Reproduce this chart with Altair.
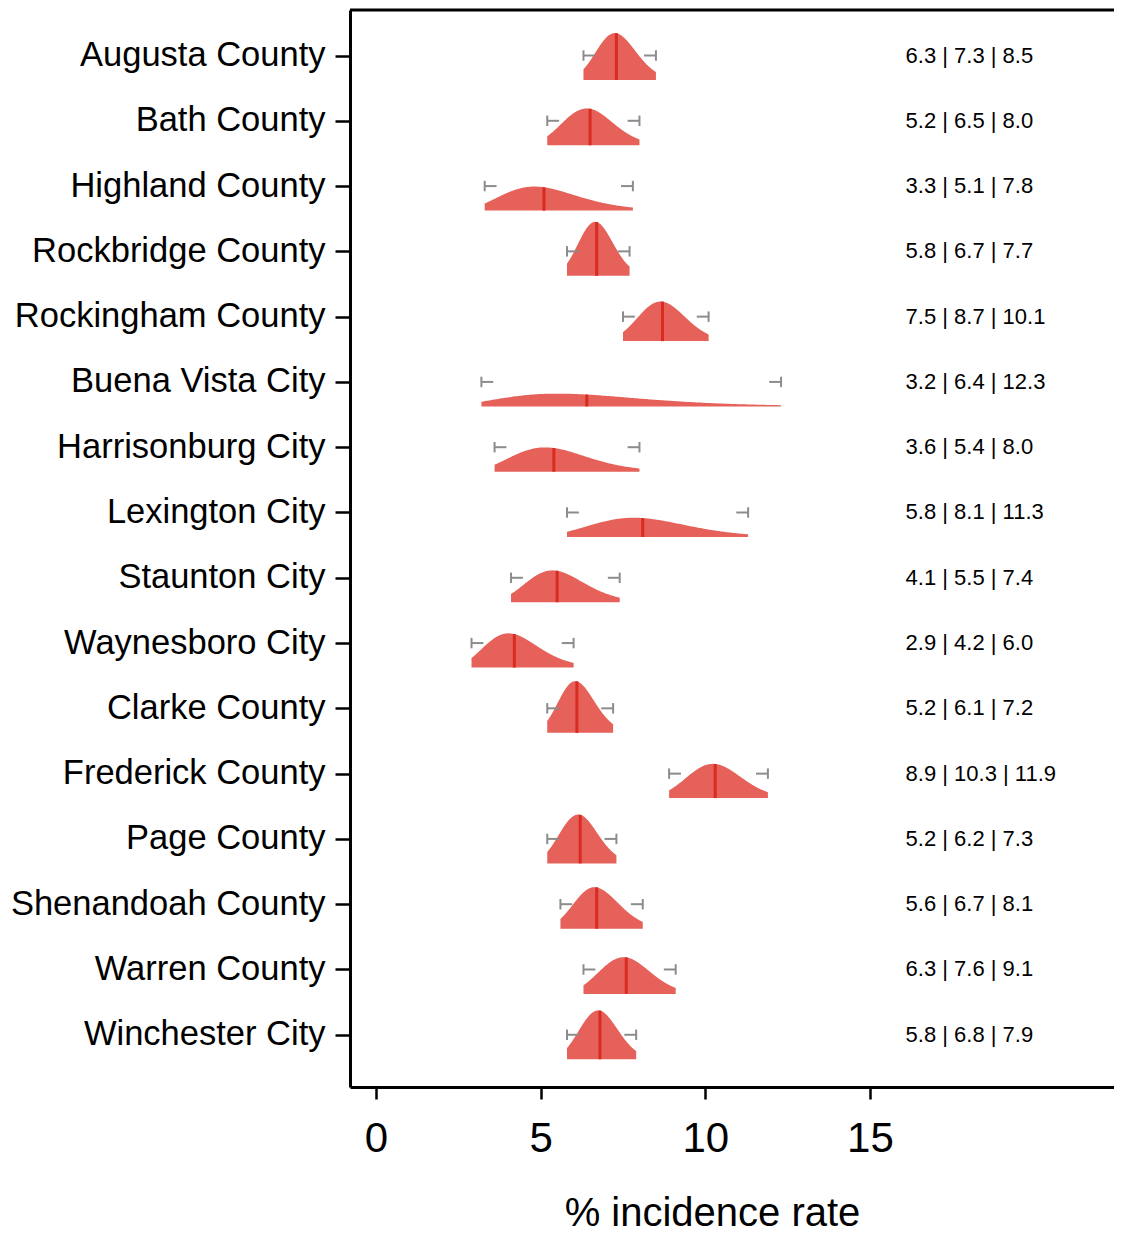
import numpy as np
import pandas as pd
import altair as alt

names = ["Augusta County", "Bath County", "Highland County", "Rockbridge County",
         "Rockingham County", "Buena Vista City", "Harrisonburg City", "Lexington City",
         "Staunton City", "Waynesboro City", "Clarke County", "Frederick County",
         "Page County", "Shenandoah County", "Warren County", "Winchester City"]
low = [6.3, 5.2, 3.3, 5.8, 7.5, 3.2, 3.6, 5.8, 4.1, 2.9, 5.2, 8.9, 5.2, 5.6, 6.3, 5.8]
mid = [7.3, 6.5, 5.1, 6.7, 8.7, 6.4, 5.4, 8.1, 5.5, 4.2, 6.1, 10.3, 6.2, 6.7, 7.6, 6.8]
high = [8.5, 8.0, 7.8, 7.7, 10.1, 12.3, 8.0, 11.3, 7.4, 6.0, 7.2, 11.9, 7.3, 8.1, 9.1, 7.9]
x_ticks = [0, 5, 10, 15]

Z = 1.8        # interval half-width in sigmas (log scale)
K = 1.09       # density -> row units
BASE = 0.375   # baseline offset of density below row centre
STUB = 0.36
CAP = 0.08

W, H = 764, 1077

dens_rows, med_rows, bar_rows = [], [], []
for i, (n, l, m, h) in enumerate(zip(names, low, mid, high)):
    sl = (np.log(m) - np.log(l)) / Z
    sh = (np.log(h) - np.log(m)) / Z
    gpk = 2.0 / (np.sqrt(2 * np.pi) * (sl + sh))
    xs = np.unique(np.concatenate([np.linspace(l, h, 161), [m]]))
    for xv in xs:
        s = sl if xv < m else sh
        f = gpk * np.exp(-0.5 * ((np.log(xv) - np.log(m)) / s) ** 2) / xv
        dens_rows.append({"name": n, "x": xv, "yb": i + BASE, "yt": i + BASE - K * f})
    med_rows.append({"name": n, "x": m, "yb": i + BASE, "yt": i + BASE - K * gpk / m})
    bar_rows.append({"name": n, "i": i, "lo": l, "lo2": l + STUB, "hi": h, "hi2": h - STUB,
                     "c1": i - CAP, "c2": i + CAP,
                     "label": f"{l:.1f} | {m:.1f} | {h:.1f}"})

dens = pd.DataFrame(dens_rows)
med = pd.DataFrame(med_rows)
bars = pd.DataFrame(bar_rows)

label_expr = "[" + ",".join("'" + n + "'" for n in names) + "][datum.value]"

xscale = alt.Scale(domain=[-0.79, 22.41], nice=False, zero=False)
yscale = alt.Scale(domain=[-0.697, 15.80], nice=False, zero=False, reverse=True)

xaxis = alt.Axis(values=x_ticks, title="% incidence rate", labelFontSize=42,
                 tickSize=12, labelPadding=19, titleFontSize=40,
                 titleX=362, titleY=138, titleAlign="center", titleBaseline="alphabetic",
                 labelFlush=False)
yaxis = alt.Axis(values=list(range(len(names))), labelExpr=label_expr, title=None,
                 labelFontSize=34.5, tickSize=15, labelPadding=10, labelLimit=0)

area = alt.Chart(dens).mark_area(color="#E5615A", opacity=1).encode(
    x=alt.X("x:Q", scale=xscale, axis=xaxis),
    y=alt.Y("yb:Q", scale=yscale, axis=yaxis),
    y2="yt:Q",
    detail="name:N",
)

med_rule = alt.Chart(med).mark_rule(color="#D92B20", strokeWidth=3).encode(
    x=alt.X("x:Q", scale=xscale, axis=xaxis),
    y=alt.Y("yb:Q", scale=yscale, axis=yaxis),
    y2="yt:Q",
)

grey = "#8c8c8c"
stub_lo = alt.Chart(bars).mark_rule(color=grey, strokeWidth=2).encode(
    x=alt.X("lo:Q", scale=xscale, axis=xaxis), x2="lo2:Q",
    y=alt.Y("i:Q", scale=yscale, axis=yaxis))
stub_hi = alt.Chart(bars).mark_rule(color=grey, strokeWidth=2).encode(
    x=alt.X("hi2:Q", scale=xscale, axis=xaxis), x2="hi:Q",
    y=alt.Y("i:Q", scale=yscale, axis=yaxis))
cap_lo = alt.Chart(bars).mark_rule(color=grey, strokeWidth=2).encode(
    x=alt.X("lo:Q", scale=xscale, axis=xaxis),
    y=alt.Y("c1:Q", scale=yscale, axis=yaxis), y2="c2:Q")
cap_hi = alt.Chart(bars).mark_rule(color=grey, strokeWidth=2).encode(
    x=alt.X("hi:Q", scale=xscale, axis=xaxis),
    y=alt.Y("c1:Q", scale=yscale, axis=yaxis), y2="c2:Q")

text = alt.Chart(bars).mark_text(align="left", baseline="middle", fontSize=22,
                                 font="Liberation Sans", color="black").encode(
    x=alt.datum(16.08, scale=xscale, axis=xaxis),
    y=alt.Y("i:Q", scale=yscale, axis=yaxis),
    text="label:N",
)

top_border = alt.Chart(pd.DataFrame({"a": [0]})).mark_rule(color="black", strokeWidth=3).encode(
    x=alt.value(0), x2=alt.value(W), y=alt.value(0))

chart = alt.layer(area, med_rule, stub_lo, stub_hi, cap_lo, cap_hi, text, top_border).properties(
    width=W, height=H,
    autosize=alt.AutoSizeParams(type="none"),
    padding={"left": 342, "top": 2, "right": 0, "bottom": 145},
).configure_view(stroke=None).configure_axis(
    grid=False, domainColor="black", domainWidth=3, tickColor="black", tickWidth=2.5,
    labelColor="black", labelFont="Liberation Sans", titleFont="Liberation Sans",
    titleColor="black", titleFontWeight="normal",
)

chart.save("out.html", embed_options={"renderer": "svg", "actions": False})
